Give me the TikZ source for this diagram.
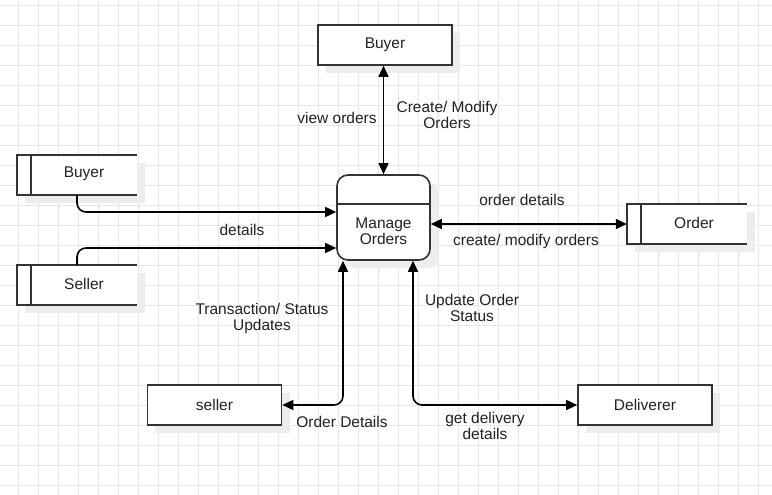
\documentclass[tikz,border=0pt]{standalone}
\usepackage{fontspec}
\setmainfont{Liberation Sans}
\usetikzlibrary{arrows.meta}
\definecolor{gridc}{HTML}{E8E8E8}
\definecolor{shad}{HTML}{EDEDED}
\definecolor{edge}{HTML}{333333}
\definecolor{txt}{HTML}{222222}
\begin{document}
\begin{tikzpicture}[x=1pt,y=-1pt,
  every node/.style={font=\fontsize{15.5}{17}\selectfont, text=txt, inner sep=0pt},
  proc/.style={draw=edge, line width=1.6pt, fill=white, minimum width=134pt, minimum height=40pt},
  store/.style={minimum width=120pt, minimum height=40pt},
  lbl/.style={align=center},
  flow/.style={line width=1.6pt, draw=black, rounded corners=9pt, {Triangle[length=11pt,width=10pt]}-{Triangle[length=11pt,width=10pt]}},
  oneway/.style={line width=1.6pt, draw=black, rounded corners=9pt, -{Triangle[length=11pt,width=10pt]}}
]
\useasboundingbox (0,0) rectangle (772,495);
\fill[white] (0,0) rectangle (772,495);
% grid
\foreach \gx in {18,38,...,778} \draw[gridc, line width=0.8pt] (\gx,0) -- (\gx,495);
\foreach \gy in {5,25,...,495} \draw[gridc, line width=0.8pt] (0,\gy) -- (772,\gy);
% shadows
\fill[shad] (326,33) rectangle (460,73);
\fill[shad] (155,393) rectangle (290,433);
\fill[shad] (586,393) rectangle (720,433);
\fill[shad, rounded corners=9pt] (345,183) rectangle (438,268);
\fill[shad] (25,163) rectangle (145,203);
\fill[shad] (25,273) rectangle (145,313);
\fill[shad] (635,212) rectangle (755,252);
% nodes
\node[proc] (tb) at (385,45) {Buyer};
\node[proc] (sb) at (214.5,405) {seller};
\node[proc] (db) at (645,405) {Deliverer};
\node[draw=edge, line width=1.6pt, fill=white, rounded corners=11pt, minimum width=93pt, minimum height=85pt] (mo) at (383.5,217.5) {};
\draw[edge, line width=1.6pt] (mo.west |- 0,204) -- (mo.east |- 0,204);
\node[align=center] (motext) at (383.5,231) {Manage\\[-1pt]Orders};
\node[store, fill=white] (bs) at (77,175) {};
\node[store, fill=white] (ss) at (77,285) {};
\node[store, fill=white] (os) at (687,224) {};
\node (bst) at (84,174) {Buyer};
\node (sst) at (84,284) {Seller};
\node (ost) at (694,223) {Order};
\foreach \s in {bs,ss,os}{
  \draw[edge, line width=1.6pt] (\s.north east) -- (\s.north west) -- (\s.south west) -- (\s.south east);
  \draw[edge, line width=1.6pt] ([xshift=14pt]\s.north west) -- ([xshift=14pt]\s.south west);
}
% connectors
\draw[flow] (mo.north) -- (mo.north |- tb.south);
\draw[oneway] (bs.south) |- ([yshift=5.5pt]mo.west);
\draw[oneway] (ss.north) |- ([yshift=-30.5pt]mo.west);
\draw[flow] (mo.east |- os.west) -- (os.west);
\draw[flow] ([xshift=-40.5pt]mo.south) |- (sb.east);
\draw[flow] ([xshift=29.5pt]mo.south) |- (db.west);
% labels
\node[lbl] (l1) at (337,118) {view orders};
\node[lbl] (l2) at (447,115) {Create/ Modify\\[-1pt]Orders};
\node[lbl] (l3) at (242,230) {details};
\node[lbl] (l4) at (522,200) {order details};
\node[lbl] (l5) at (526,241) {create/ modify orders};
\node[lbl] (l6) at (262,318) {Transaction/ Status\\[-1pt]Updates};
\node[lbl] (l7) at (342,422) {Order Details};
\node[lbl] (l8) at (472,308) {Update Order\\[-1pt]Status};
\node[lbl] (l9) at (485,426) {get delivery\\[-1pt]details};
\end{tikzpicture}
\end{document}
